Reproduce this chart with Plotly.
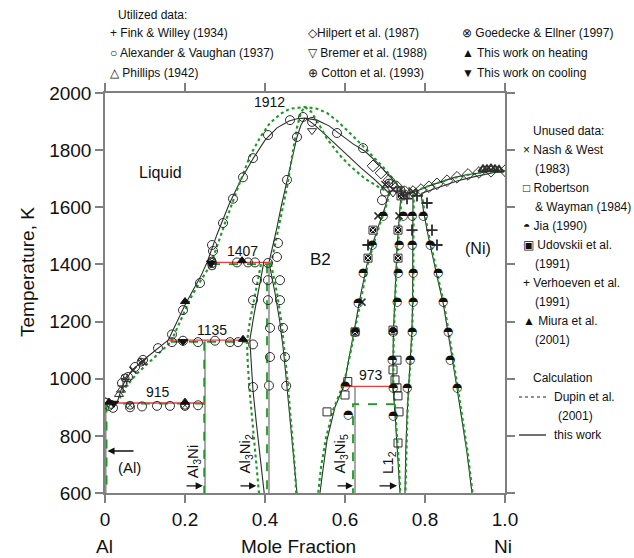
import plotly.graph_objects as go

FONT = "Liberation Sans, Arial, Helvetica, sans-serif"
BLACK = "#2e2e2e"
GREEN = "#1c9a24"
RED = "#ee3b3b"
GREY = "#7a7a7a"

# ---------------- calculated phase boundaries, this work (x = mole fraction Ni, T in K)
liq_al_x = [0.0, 0.03]
liq_al_t = [933, 915]
liq_low_x = [0.03, 0.04, 0.05, 0.07, 0.10, 0.13, 0.158]
liq_low_t = [915, 960, 993, 1033, 1070, 1102, 1135]
liq_mid_x = [0.158, 0.18, 0.20, 0.22, 0.24, 0.255]
liq_mid_t = [1135, 1200, 1258, 1310, 1360, 1407]
liq_b2l_x = [0.255, 0.28, 0.31, 0.34, 0.37, 0.40, 0.43, 0.46, 0.48, 0.50]
liq_b2l_t = [1407, 1505, 1610, 1697, 1770, 1835, 1878, 1902, 1910, 1912]
liq_b2r_x = [0.50, 0.53, 0.56, 0.59, 0.62, 0.65, 0.68, 0.705, 0.73, 0.75]
liq_b2r_t = [1912, 1905, 1885, 1855, 1822, 1796, 1757, 1718, 1680, 1645]
liq_ni_x = [0.75, 0.78, 0.81, 0.84, 0.87, 0.90, 0.93, 0.96, 1.0]
liq_ni_t = [1645, 1657, 1675, 1690, 1703, 1713, 1720, 1725, 1728]
sol_ni_x = [0.79, 0.82, 0.85, 0.88, 0.91, 0.94, 0.97, 1.0]
sol_ni_t = [1648, 1663, 1678, 1692, 1703, 1713, 1721, 1728]
sol_b2l_x = [0.41, 0.42, 0.43, 0.44, 0.455, 0.47, 0.48, 0.49, 0.50]
sol_b2l_t = [1407, 1465, 1530, 1600, 1696, 1790, 1846, 1888, 1912]
sol_b2r_x = [0.50, 0.52, 0.55, 0.58, 0.61, 0.64, 0.67, 0.69, 0.71]
sol_b2r_t = [1912, 1893, 1855, 1815, 1777, 1738, 1702, 1677, 1650]
b2_ni_x = [0.71, 0.70, 0.685, 0.67, 0.655, 0.64, 0.627, 0.613, 0.60, 0.597, 0.575, 0.555, 0.5425, 0.5375]
b2_ni_t = [1650, 1600, 1540, 1475, 1400, 1300, 1200, 1100, 1000, 973, 901, 785, 656, 600]
b2_al_x = [0.41, 0.425, 0.437, 0.446, 0.453, 0.46, 0.467, 0.474, 0.48]
b2_al_t = [1407, 1300, 1200, 1100, 1000, 900, 800, 700, 600]
al3ni2_l_x = [0.397, 0.385, 0.372, 0.362, 0.365, 0.37, 0.378, 0.386, 0.393, 0.398]
al3ni2_l_t = [1407, 1320, 1220, 1135, 1050, 960, 850, 750, 670, 600]
al3ni2_r_x = [0.41, 0.41]
al3ni2_r_t = [1407, 600]
al3ni_x = [0.25, 0.25]
al3ni_t = [1135, 600]
al_fcc_x = [0.002, 0.002]
al_fcc_t = [915, 600]
al3ni5_x = [0.625, 0.625]
al3ni5_t = [973, 600]
l12_l_x = [0.74, 0.735, 0.73, 0.727, 0.724, 0.721, 0.72, 0.72, 0.724, 0.729, 0.734, 0.7375]
l12_l_t = [1645, 1560, 1460, 1360, 1260, 1160, 1060, 973, 900, 800, 700, 600]
l12_r_x = [0.77, 0.77, 0.77, 0.77, 0.769, 0.767, 0.763, 0.758, 0.755, 0.752, 0.75]
l12_r_t = [1648, 1560, 1460, 1360, 1260, 1160, 1060, 970, 870, 750, 600]
ni_solv_x = [0.79, 0.797, 0.808, 0.82, 0.833, 0.846, 0.857, 0.868, 0.88, 0.893, 0.905, 0.9175]
ni_solv_t = [1648, 1580, 1500, 1420, 1340, 1260, 1170, 1070, 968, 850, 740, 600]

# invariant reactions, this work
inv_t = [915, 1135, 1407, 973]
inv_x0 = [0.0, 0.158, 0.255, 0.597]
inv_x1 = [0.25, 0.362, 0.41, 0.72]

# ---------------- Dupin et al. (2001)
d_liq_low_x = [0.03, 0.05, 0.08, 0.11, 0.14, 0.165]
d_liq_low_t = [913, 968, 1018, 1058, 1095, 1129]
d_liq_mid_x = [0.165, 0.19, 0.215, 0.24, 0.265]
d_liq_mid_t = [1129, 1210, 1285, 1345, 1401]
d_liq_b2_x = [0.265, 0.30, 0.33, 0.3625, 0.39, 0.4125, 0.44, 0.4625, 0.5, 0.53, 0.555,
              0.58, 0.605, 0.63, 0.655, 0.675, 0.695, 0.72, 0.745]
d_liq_b2_t = [1401, 1545, 1660, 1780, 1850, 1895, 1928, 1945, 1951, 1945, 1930,
              1903, 1870, 1836, 1800, 1770, 1741, 1700, 1650]
d_liq_ni_x = [0.745, 0.78, 0.82, 0.86, 0.90, 0.95, 1.0]
d_liq_ni_t = [1650, 1660, 1680, 1698, 1712, 1723, 1728]
d_sol_b2l_x = [0.415, 0.425, 0.44, 0.455, 0.468, 0.48, 0.49, 0.5]
d_sol_b2l_t = [1401, 1470, 1570, 1670, 1780, 1880, 1933, 1951]
d_sol_b2r_x = [0.5, 0.515, 0.535, 0.555, 0.585, 0.6125, 0.65, 0.6875, 0.71]
d_sol_b2r_t = [1951, 1935, 1890, 1840, 1785, 1745, 1700, 1668, 1652]
d_b2_ni_x = [0.712, 0.702, 0.687, 0.672, 0.657, 0.643, 0.63, 0.615, 0.60, 0.59, 0.57, 0.552, 0.54, 0.533]
d_b2_ni_t = [1650, 1600, 1540, 1475, 1400, 1300, 1200, 1100, 1000, 960, 890, 790, 690, 600]
d_b2_al_x = [0.415, 0.43, 0.441, 0.449, 0.456, 0.462, 0.468, 0.474, 0.478]
d_b2_al_t = [1401, 1300, 1200, 1100, 1000, 900, 800, 700, 600]
d_al3ni2_l_x = [0.39, 0.375, 0.362, 0.355, 0.357, 0.362, 0.37, 0.378, 0.385]
d_al3ni2_l_t = [1401, 1300, 1200, 1129, 1050, 950, 830, 720, 600]
d_al3ni2_r_x = [0.405, 0.405]
d_al3ni2_r_t = [1401, 600]
d_al3ni_x = [0.248, 0.248]
d_al3ni_t = [1129, 600]
d_al_x = [0.004, 0.004]
d_al_t = [913, 600]
d_al3ni5_x = [0.725, 0.62, 0.62]
d_al3ni5_t = [911, 911, 600]
d_l12_l_x = [0.742, 0.737, 0.732, 0.728, 0.725, 0.722, 0.721, 0.721, 0.725, 0.73, 0.735, 0.738]
d_l12_l_t = [1645, 1560, 1460, 1360, 1260, 1160, 1060, 973, 900, 800, 700, 600]
d_l12_r_x = [0.772, 0.771, 0.771, 0.771, 0.77, 0.768, 0.764, 0.759, 0.756, 0.753, 0.751]
d_l12_r_t = [1648, 1560, 1460, 1360, 1260, 1160, 1060, 970, 870, 750, 600]
d_ni_solv_x = [0.792, 0.799, 0.81, 0.822, 0.835, 0.848, 0.859, 0.87, 0.882, 0.895, 0.907, 0.919]
d_ni_solv_t = [1648, 1580, 1500, 1420, 1340, 1260, 1170, 1070, 968, 850, 740, 600]
d_inv_t = [913, 1129, 1401]
d_inv_x0 = [0.0, 0.165, 0.265]
d_inv_x1 = [0.25, 0.356, 0.415]

# ---------------- experimental data
av_x = [0.0425, 0.0575, 0.075, 0.095, 0.1325,
        0.01, 0.02, 0.0625, 0.0925, 0.13, 0.1625, 0.2, 0.2325,
        0.1675, 0.195, 0.2325, 0.275, 0.3125, 0.3325, 0.37,
        0.1675, 0.195, 0.2375,
        0.2675, 0.33, 0.3575, 0.375, 0.4075, 0.2675, 0.27,
        0.295, 0.32, 0.345, 0.37, 0.4075, 0.4625, 0.495, 0.5175, 0.58, 0.645,
        0.455, 0.48,
        0.4325, 0.43, 0.38, 0.4075, 0.4375, 0.37, 0.4075, 0.4375, 0.4125, 0.445,
        0.4125, 0.45, 0.37, 0.41, 0.453, 0.6925, 0.70]
av_t = [985, 1006, 1041, 1066, 1107,
        905, 898, 900, 903, 905, 905, 905, 907,
        1128, 1133, 1128, 1133, 1128, 1128, 1120,
        1155, 1240, 1335,
        1405, 1407, 1407, 1407, 1405, 1468, 1447,
        1545, 1630, 1705, 1772, 1853, 1905, 1916, 1899, 1860, 1807,
        1696, 1846,
        1475, 1426, 1345, 1345, 1345, 1275, 1275, 1275, 1178, 1178,
        1076, 1076, 971, 976, 975, 1625, 1655]

jia_x = [0.695, 0.6675, 0.645, 0.6325, 0.625,
         0.745, 0.735, 0.7325, 0.73, 0.72, 0.7175, 0.72, 0.72,
         0.7675, 0.7675, 0.77, 0.77, 0.7675, 0.7625, 0.755,
         0.795, 0.8125, 0.8325, 0.845, 0.8575, 0.8625, 0.88,
         0.6075, 0.60]
jia_t = [1570, 1468, 1370, 1265, 1164,
         1570, 1468, 1370, 1268, 1164, 1065, 968, 870,
         1570, 1468, 1370, 1268, 1164, 1065, 968,
         1570, 1468, 1370, 1268, 1164, 1065, 968,
         873, 975]

rw_x = [0.73, 0.72, 0.725, 0.73, 0.7325, 0.735, 0.7325, 0.555, 0.60, 0.607]
rw_t = [1065, 1031, 996, 968, 940, 884, 775, 884, 943, 990]

udo_x = [0.67, 0.6575, 0.625, 0.7325, 0.7325, 0.72, 0.74]
udo_t = [1520, 1422, 1164, 1520, 1422, 1170, 1640]

nash_x = [0.6825, 0.735, 0.6425, 0.07, 0.095, 0.72, 0.745, 0.77, 0.70]
nash_t = [1570, 1570, 1268, 1030, 1060, 1662, 1648, 1655, 1680]

verh_x = [0.805, 0.7675, 0.8175, 0.6575, 0.83, 0.78, 0.755]
verh_t = [1615, 1520, 1520, 1468, 1468, 1640, 1630]

fink_x = [0.045, 0.055, 0.73, 0.76]
fink_t = [975, 998, 1668, 1652]

hilp_x = [0.79, 0.81, 0.83, 0.855, 0.88, 0.9075, 0.935, 0.965, 1.0,
          0.67, 0.69, 0.71, 0.73, 0.75, 0.77]
hilp_t = [1662, 1672, 1682, 1693, 1705, 1715, 1722, 1726, 1728,
          1745, 1720, 1695, 1672, 1655, 1655]

miura_x = [0.945, 0.955, 0.965, 0.975, 0.985]
miura_t = [1733, 1733, 1735, 1733, 1731]

goed_x = [0.015, 0.0625, 0.2, 0.05, 0.09, 0.2675, 0.2675]
goed_t = [910, 907, 907, 1003, 1058, 1412, 1395]

phil_x = [0.035, 0.04]
phil_t = [945, 960]

bremer_x = [0.5175, 0.72]
bremer_t = [1868, 1650]

cotton_x = [0.71, 0.74]
cotton_t = [1685, 1660]

heat_x = [0.01, 0.2, 0.345, 0.3425, 0.2]
heat_t = [918, 918, 1138, 1413, 1270]

cool_x = [0.022, 0.195, 0.265]
cool_t = [914, 1130, 1405]

fig = go.Figure()


def line(x, y, color=BLACK, width=1.1, dash="solid"):
    fig.add_trace(go.Scatter(x=x, y=y, mode="lines", hoverinfo="skip", showlegend=False,
                             line=dict(color=color, width=width, dash=dash)))


def points(x, y, symbol, size=8, color=BLACK, lw=1.0, fill=None):
    fig.add_trace(go.Scatter(x=x, y=y, mode="markers", hoverinfo="skip", showlegend=False,
                             marker=dict(symbol=symbol, size=size,
                                         color=fill if fill else color,
                                         line=dict(color=color, width=lw))))


# this work
for xs, ts in [(liq_al_x, liq_al_t), (liq_low_x, liq_low_t), (liq_mid_x, liq_mid_t),
               (liq_b2l_x, liq_b2l_t), (liq_b2r_x, liq_b2r_t), (liq_ni_x, liq_ni_t),
               (sol_ni_x, sol_ni_t), (sol_b2l_x, sol_b2l_t), (sol_b2r_x, sol_b2r_t),
               (b2_ni_x, b2_ni_t), (b2_al_x, b2_al_t), (al3ni2_l_x, al3ni2_l_t),
               (l12_l_x, l12_l_t), (l12_r_x, l12_r_t), (ni_solv_x, ni_solv_t)]:
    line(xs, ts)
for xs, ts in [(al3ni2_r_x, al3ni2_r_t), (al3ni_x, al3ni_t), (al_fcc_x, al_fcc_t),
               (al3ni5_x, al3ni5_t)]:
    line(xs, ts, color=GREY, width=1.3)

# Dupin et al. (2001)
for xs, ts in [(d_liq_low_x, d_liq_low_t), (d_liq_mid_x, d_liq_mid_t), (d_liq_b2_x, d_liq_b2_t),
               (d_liq_ni_x, d_liq_ni_t), (d_sol_b2l_x, d_sol_b2l_t), (d_sol_b2r_x, d_sol_b2r_t),
               (d_b2_ni_x, d_b2_ni_t), (d_b2_al_x, d_b2_al_t), (d_al3ni2_l_x, d_al3ni2_l_t),
               (d_l12_l_x, d_l12_l_t), (d_l12_r_x, d_l12_r_t), (d_ni_solv_x, d_ni_solv_t)]:
    line(xs, ts, color=GREEN, width=2.1, dash="dot")
for xs, ts in [(d_al3ni2_r_x, d_al3ni2_r_t), (d_al3ni_x, d_al3ni_t), (d_al_x, d_al_t),
               (d_al3ni5_x, d_al3ni5_t)]:
    line(xs, ts, color=GREEN, width=1.8, dash="dash")
for t, a, b in zip(d_inv_t, d_inv_x0, d_inv_x1):
    line([a, b], [t, t], color=GREEN, width=1.8, dash="dash")

# invariant temperatures, this work
for t, a, b in zip(inv_t, inv_x0, inv_x1):
    line([a, b], [t, t], color=RED, width=1.3)

# experimental points
points(av_x, av_t, "circle-open", size=9)
points(rw_x, rw_t, "square-open", size=8)
points(udo_x, udo_t, "square-x", size=7, fill="#111111", color="white", lw=1)
points(udo_x, udo_t, "square-open", size=8)
points(nash_x, nash_t, "x-thin-open", size=7, lw=1.5)
points(verh_x, verh_t, "cross-thin-open", size=8, lw=1.8)
points(fink_x, fink_t, "cross-thin-open", size=8, lw=1)
points(hilp_x, hilp_t, "diamond-open", size=9)
points(miura_x, miura_t, "triangle-up-open", size=8, lw=2.0)
points(goed_x, goed_t, "circle-x-open", size=8)
points(phil_x, phil_t, "triangle-up-open", size=8)
points(bremer_x, bremer_t, "triangle-down-open", size=8)
points(cotton_x, cotton_t, "circle-cross-open", size=8)
points(heat_x, heat_t, "triangle-up", size=8, fill="#111111", color="#111111")
points(cool_x, cool_t, "triangle-down", size=8, fill="#111111", color="#111111")
fig.add_trace(go.Scatter(x=jia_x, y=jia_t, mode="text", text=["◓"] * len(jia_x),
                         textfont=dict(family="DejaVu Sans", size=12, color="#111111"),
                         hoverinfo="skip", showlegend=False))

# in-diagram labels
labels = [("Liquid", 0.1375, 1723, 16), ("1912", 0.41, 1967, 14), ("1407", 0.3425, 1447, 14),
          ("1135", 0.2675, 1172, 14), ("915", 0.1325, 953, 14), ("973", 0.665, 1013, 14),
          ("B2", 0.5375, 1418, 17), ("(Ni)", 0.9325, 1457, 16), ("(Al)", 0.06, 690, 15)]
for txt, x, t, s in labels:
    fig.add_annotation(x=x, y=t, text=txt, showarrow=False, font=dict(family=FONT, size=s, color="#111"))

compounds = [("Al<sub>3</sub>Ni", 0.22, 708), ("Al<sub>3</sub>Ni<sub>2</sub>", 0.35, 735),
             ("Al<sub>3</sub>Ni<sub>5</sub>", 0.5875, 735), ("L1<sub>2</sub>", 0.7075, 705)]
for txt, x, t in compounds:
    fig.add_annotation(x=x, y=t, text=txt, textangle=-90, showarrow=False,
                       font=dict(family=FONT, size=15, color="#111"))

arrows = [(0.20, 0.2445, 625), (0.335, 0.378, 625), (0.5775, 0.62, 625), (0.6825, 0.73, 625),
          (0.075, 0.006, 747)]
for x0, x1, t in arrows:
    fig.add_annotation(x=x1, y=t, ax=x0, ay=t, xref="x", yref="y", axref="x", ayref="y",
                       text="", showarrow=True, arrowhead=2, arrowsize=1.1, arrowwidth=1.3,
                       arrowcolor="#111")

# plot area spans pixels x 105..505, y 93..493
def paper_x(px):
    return (px - 105) / 400.0


def paper_y(py):
    return (493 - py) / 400.0


def note(txt, px, py, size=12, anchor="left"):
    fig.add_annotation(x=paper_x(px), y=paper_y(py), xref="paper", yref="paper", text=txt,
                       showarrow=False, xanchor=anchor, yanchor="middle",
                       font=dict(family=FONT, size=size, color="#111"))


# legend of data sources
note("Utilized data:", 116, 15)
top_rows = [
    ("+ Fink & Willey (1934)", 108, 33), ("○ Alexander & Vaughan (1937)", 108, 53),
    ("△ Phillips (1942)", 108, 73),
    ("◇Hilpert et al. (1987)", 306, 33), ("▽ Bremer et al. (1988)", 306, 53),
    ("⊕ Cotton et al. (1993)", 306, 73),
    ("⊗ Goedecke & Ellner (1997)", 460, 33), ("▲ This work on heating", 460, 53),
    ("▼ This work on cooling", 460, 73),
]
for txt, px, py in top_rows:
    note(txt, px, py)

note("Unused data:", 531, 131)
right_rows = [
    ("× Nash & West", 521, 150), ("(1983)", 533, 169),
    ("□ Robertson", 521, 188), ("& Wayman (1984)", 533, 207),
    ("◓ Jia (1990)", 521, 226),
    ("▣ Udovskii et al.", 521, 245), ("(1991)", 533, 264),
    ("+ Verhoeven et al.", 521, 283), ("(1991)", 533, 302),
    ("▲ Miura et al.", 521, 321), ("(2001)", 533, 340),
]
for txt, px, py in right_rows:
    note(txt, px, py)
note("Calculation", 531, 378)
note("Dupin et al.", 552, 397)
note("(2001)", 556, 416)
note("this work", 552, 435)
fig.add_shape(type="line", xref="paper", yref="paper", x0=paper_x(519), x1=paper_x(546),
              y0=paper_y(397), y1=paper_y(397), line=dict(color="#222", width=1.2, dash="dot"))
fig.add_shape(type="line", xref="paper", yref="paper", x0=paper_x(519), x1=paper_x(546),
              y0=paper_y(435), y1=paper_y(435), line=dict(color="#222", width=1.3))

# axis captions
note("Al", 104, 546, size=19, anchor="center")
note("Mole Fraction", 298, 546, size=19, anchor="center")
note("Ni", 503, 546, size=19, anchor="center")
fig.add_annotation(x=paper_x(27), y=paper_y(272), xref="paper", yref="paper",
                   xanchor="center", yanchor="middle",
                   text="Temperature, K", textangle=-90, showarrow=False,
                   font=dict(family=FONT, size=19, color="#111"))

x_ticks = [0, 0.2, 0.4, 0.6, 0.8, 1.0]
x_tick_text = ["0", "0.2", "0.4", "0.6", "0.8", "1.0"]
t_ticks = [600, 800, 1000, 1200, 1400, 1600, 1800, 2000]

axis_common = dict(showgrid=False, zeroline=False, showline=True, linecolor="#808080",
                   linewidth=1.5, ticks="outside", ticklen=8, tickwidth=1.5, tickcolor="#808080",
                   mirror="ticks", tickfont=dict(family=FONT, size=19, color="#111"))
fig.update_layout(
    width=634, height=558,
    margin=dict(l=105, r=129, t=93, b=65),
    paper_bgcolor="white", plot_bgcolor="white",
    showlegend=False,
    xaxis=dict(range=[0, 1.0], tickvals=x_ticks, ticktext=x_tick_text, **axis_common),
    yaxis=dict(range=[600, 2000], tickvals=t_ticks, **axis_common),
)

fig.write_html("out.html")
